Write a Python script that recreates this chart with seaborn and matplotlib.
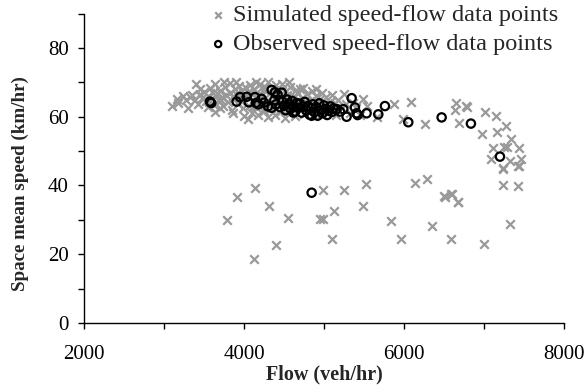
import matplotlib
matplotlib.use("Agg")
import matplotlib.pyplot as plt
from matplotlib.ticker import MultipleLocator
import seaborn as sns
import pandas as pd

# Simulated speed-flow data points (flow veh/hr, speed km/hr)
sim_flow = [
    3100, 3160, 3240, 3180, 3280, 3330, 3350, 3400, 3390, 3420, 3450, 3480, 3500, 3520, 3550, 3580,
    3600, 3620, 3640, 3640, 3660, 3680, 3700, 3720, 3740, 3760, 3780, 3800, 3820, 3830, 3850, 3866,
    3870, 3890, 3900, 3920, 3940, 3950, 3970, 3990, 4000, 4010, 4030, 4050, 4060, 4080, 4090, 4100,
    4110, 4130, 4150, 4160, 4180, 4190, 4200, 4220, 4230, 4250, 4260, 4280, 4300, 4300, 4320, 4340,
    4350, 4370, 4390, 4400, 4410, 4430, 4450, 4460, 4480, 4500, 4510, 4530, 4550, 4560, 4580, 4600,
    4620, 4640, 4650, 4670, 4690, 4700, 4720, 4741, 4750, 4770, 4790, 4800, 4820, 4850, 4870, 4880,
    4900, 4920, 4950, 4971, 4980, 5000, 5030, 5050, 5080, 5100, 5137, 5150, 5180, 5220, 5254, 5280,
    5320, 5360, 5400, 5450,
    3450, 3550, 3700, 3750, 3900, 3980, 4050, 4150, 4200, 4250, 4350, 4420, 4470, 4560, 4600, 4680,
    4760, 4830, 4900, 3300, 3560, 3610, 3710, 3860, 4120, 4240, 4440, 4540,
    5492, 5533, 5658, 5875, 6087, 5983, 6258, 6650, 6642, 6771, 6688, 6783, 7012, 7146, 6971, 7158,
    7275, 7333, 7117, 7254, 7283, 7437, 7083, 7325, 7458, 7433, 7242, 7233, 7429, 7242, 7429,
    4137, 3908, 4316, 3787, 4546, 4404, 4125, 4992, 4950, 4992, 5250, 5529, 6137, 6291, 6500, 6587,
    6675, 7321, 5129, 5492, 5837, 6354, 5096, 5967, 6583, 6996, 6512, 6596, 6679,
]
sim_speed = [
    63.1, 65.2, 66.0, 64.0, 64.8, 65.7, 66.3, 69.5, 65.0, 63.8, 66.6, 65.4, 67.2, 64.6, 66.0, 68.3,
    65.2, 63.4, 69.5, 61.5, 66.8, 64.9, 67.6, 65.8, 63.0, 68.6, 66.2, 64.4, 69.7, 67.0, 62.0, 61.0,
    65.4, 68.1, 66.5, 63.8, 69.0, 64.9, 67.4, 62.4, 60.2, 68.5, 65.9, 59.3, 63.2, 69.3, 66.8, 61.2,
    64.5, 68.0, 62.8, 67.2, 60.4, 65.1, 69.6, 63.5, 66.3, 61.6, 68.7, 64.2, 70.0, 59.8, 66.9, 62.5,
    68.3, 65.3, 60.6, 69.1, 63.6, 67.0, 61.3, 65.8, 69.4, 63.0, 59.6, 67.6, 64.8, 61.8, 68.6, 62.2,
    66.1, 60.3, 67.9, 64.0, 62.7, 68.0, 65.4, 68.3, 60.9, 63.3, 66.6, 61.9, 64.7, 67.5, 60.2, 63.8,
    66.0, 62.0, 65.2, 67.0, 60.8, 63.4, 65.6, 61.4, 64.3, 66.2, 63.9, 60.6, 65.0, 62.4, 66.6, 63.7,
    61.0, 64.0, 62.5, 60.4,
    68.0, 62.8, 62.5, 70.0, 70.2, 65.5, 67.3, 70.2, 64.0, 67.8, 63.9, 66.0, 62.0, 70.0, 65.3, 66.8,
    64.6, 62.8, 68.2, 62.6, 64.2, 67.0, 64.8, 66.0, 63.0, 62.0, 64.4, 66.4,
    65.1, 63.1, 60.0, 63.6, 64.3, 59.3, 57.9, 64.1, 62.0, 63.1, 58.3, 62.9, 61.5, 60.2, 55.0, 55.7,
    57.4, 53.5, 50.8, 51.3, 51.1, 50.8, 47.7, 47.2, 47.7, 45.7, 44.9, 45.1, 45.7, 40.1, 39.8,
    39.4, 36.6, 34.0, 30.1, 30.5, 22.8, 18.5, 38.6, 30.3, 30.2, 38.7, 40.4, 40.8, 41.8, 37.0, 37.6,
    35.1, 28.8, 32.6, 34.1, 29.8, 28.3, 24.4, 24.3, 24.5, 23.0, 36.7, 37.5, 35.1,
]

# Observed speed-flow data points
obs_flow = [
    3575, 3590, 3908, 3950, 4033, 4060, 4137, 4150, 4180, 4220, 4250, 4300, 4346, 4346, 4380, 4400,
    4420, 4471, 4387, 4450, 4480, 4500, 4520, 4540, 4560, 4580, 4600, 4617, 4620, 4640, 4660, 4680,
    4700, 4720, 4740, 4760, 4780, 4800, 4820, 4840, 4846, 4860, 4880, 4900, 4920, 4940, 4960, 4980,
    5000, 5020, 5040, 5060, 5080, 5100, 5120, 5158, 5200, 5242, 5283, 5346, 5387, 5408, 5421, 5533,
    5679, 5762, 6054, 6471, 6837, 7200, 4846,
]
obs_speed = [
    64.4, 64.0, 64.4, 65.7, 65.8, 64.2, 65.7, 64.0, 63.6, 65.2, 64.1, 63.0, 67.8, 62.6, 64.8, 63.6,
    66.4, 67.0, 67.1, 62.8, 64.4, 63.2, 61.9, 65.0, 63.7, 62.3, 64.6, 61.2, 63.0, 61.5, 64.0, 62.6,
    63.8, 61.2, 62.9, 64.3, 61.8, 63.1, 60.6, 62.4, 60.3, 63.6, 61.3, 62.8, 60.3, 63.9, 62.0, 61.0,
    63.3, 62.2, 60.5, 61.7, 63.0, 61.4, 62.4, 62.2, 61.5, 62.2, 60.0, 65.4, 62.7, 61.0, 60.5, 61.0,
    60.7, 63.1, 58.4, 59.8, 58.0, 48.4, 37.9,
]

series_labels = ["Simulated speed-flow data points", "Observed speed-flow data points"]
x_label = "Flow (veh/hr)"
y_label = "Space mean speed (km/hr)"

sim_df = pd.DataFrame({"flow": sim_flow, "speed": sim_speed})
obs_df = pd.DataFrame({"flow": obs_flow, "speed": obs_speed})

sns.set_theme(style="ticks")
plt.rcParams["font.family"] = ["Liberation Serif", "DejaVu Serif"]

fig = plt.figure(figsize=(5.85, 3.88), dpi=100)
ax = fig.add_axes([0.1436, 0.1675, 0.964 - 0.1436, 0.965 - 0.1675])

sns.scatterplot(data=sim_df, x="flow", y="speed", ax=ax, marker="x", color="#999999",
                s=38, linewidth=1.6, label=series_labels[0], zorder=2)
sns.scatterplot(data=obs_df, x="flow", y="speed", ax=ax, marker="o", facecolor="none",
                edgecolor="black", s=36, linewidth=1.6, label=series_labels[1], zorder=3)

ax.set_xlim(2000, 8000)
ax.set_ylim(0, 90)
ax.xaxis.set_major_locator(MultipleLocator(2000))
ax.xaxis.set_minor_locator(MultipleLocator(1000))
ax.yaxis.set_major_locator(MultipleLocator(20))
ax.yaxis.set_minor_locator(MultipleLocator(10))
ax.tick_params(axis="both", which="both", direction="out", length=4, width=1, color="black",
               labelsize=15, labelcolor="black")
ax.tick_params(axis="y", pad=7)
ax.tick_params(axis="x", pad=12)
for s in ["top", "right"]:
    ax.spines[s].set_visible(False)
for s in ["left", "bottom"]:
    ax.spines[s].set_color("black")
    ax.spines[s].set_linewidth(1)

ax.set_xlabel(x_label, fontsize=14.5, fontweight="bold", labelpad=0)
ax.set_ylabel(y_label, fontsize=13.7, fontweight="bold")
ax.yaxis.set_label_coords(-0.115, 0.452)

leg = ax.legend(loc="upper left", bbox_to_anchor=(0.234, 1.062), frameon=False, fontsize=17.5,
                handletextpad=0.1, labelspacing=0.3, borderaxespad=0, markerscale=0.75,
                handlelength=1.0)

fig.savefig("out.png", dpi=100)
